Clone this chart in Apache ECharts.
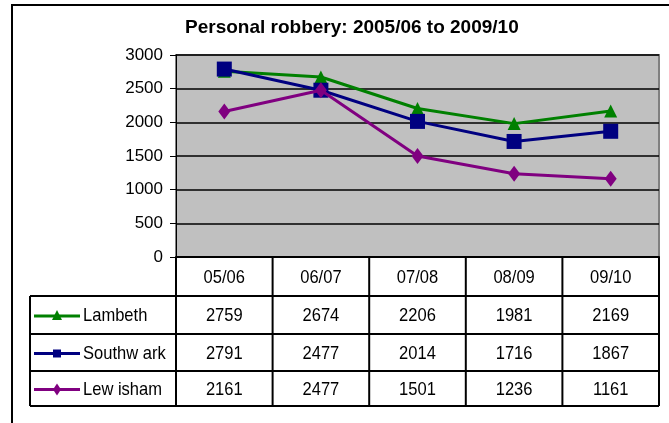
<!DOCTYPE html>
<html>
<head>
<meta charset="utf-8">
<script src="https://cdn.jsdelivr.net/npm/echarts@6/dist/echarts.min.js"></script>
<style>
html, body { margin: 0; padding: 0; background: #fff; }
#chart { width: 669px; height: 423px; }
</style>
</head>
<body>
<div id="chart"></div>
<script>
// data
const years = ['05/06', '06/07', '07/08', '08/09', '09/10']
const names = ['Lambeth', 'Southw ark', 'Lew isham']
const lambeth = [2759, 2674, 2206, 1981, 2169]
const southwark = [2791, 2477, 2014, 1716, 1867]
const lewisham = [2161, 2477, 1501, 1236, 1161]
const yMin = 0
const yMax = 3000
const yStep = 500

const colors = ['#008000', '#000080', '#800080']
const symbols = ['triangle', 'rect', 'diamond']
const symbolSizes = [[13, 13], [15, 15], [12, 16]]
const allData = [lambeth, southwark, lewisham]

const chart = echarts.init(document.getElementById('chart'))

const option = {
  animation: false,
  title: {
    text: 'Personal robbery: 2005/06 to 2009/10',
    left: 180,
    top: 13,
    textStyle: { fontFamily: 'Liberation Sans, Arial, sans-serif', fontSize: 19, fontWeight: 'bold', color: '#000' }
  },
  grid: {
    left: 176, top: 55, width: 483, height: 202,
    show: true,
    backgroundColor: '#c0c0c0',
    borderColor: '#808080',
    borderWidth: 2
  },
  xAxis: {
    type: 'category',
    data: years,
    boundaryGap: true,
    axisLine: { lineStyle: { color: '#000', width: 2 } },
    axisTick: { show: false },
    axisLabel: { show: false },
    splitLine: { show: false }
  },
  yAxis: {
    type: 'value',
    min: yMin, max: yMax, interval: yStep,
    axisLine: { show: true, lineStyle: { color: '#000', width: 1 } },
    axisTick: { show: true, length: 6, lineStyle: { color: '#000' } },
    axisLabel: { margin: 13, color: '#000', fontFamily: 'Liberation Sans, Arial, sans-serif', fontSize: 17, formatter: v => String(v) },
    splitLine: { lineStyle: { color: '#000', width: 1.5 } }
  },
  series: names.map((n, i) => ({
    name: n,
    type: 'line',
    data: allData[i],
    symbol: symbols[i],
    symbolSize: symbolSizes[i],
    showAllSymbol: true,
    lineStyle: { color: colors[i], width: 3 },
    itemStyle: { color: colors[i] },
    z: 3 + i
  }))
}
chart.setOption(option)

// data table under the plot
const tableTop = 257
const rowLines = [296, 334, 371, 406]
const legendLeft = 30
const font = '19px Liberation Sans, Arial, sans-serif'

const xs = years.map(y => chart.convertToPixel({ xAxisIndex: 0 }, y))
const band = xs[1] - xs[0]
const colEdges = [xs[0] - band / 2].concat(xs.map(x => x + band / 2))
const plotLeft = colEdges[0]
const plotRight = colEdges[colEdges.length - 1]

const g = []
// outer frame
g.push({ type: 'rect', shape: { x: 12, y: 5, width: 700, height: 460 }, style: { fill: null, stroke: '#000', lineWidth: 2 }, z: 0 })

const line = (x1, y1, x2, y2) => ({ type: 'line', shape: { x1, y1, x2, y2 }, style: { stroke: '#000', lineWidth: 2 }, z: 10 })
// horizontal lines
g.push(line(plotLeft, tableTop, plotRight, tableTop))
rowLines.forEach(y => g.push(line(legendLeft, y, plotRight, y)))
// vertical lines
colEdges.forEach(x => g.push(line(x, tableTop, x, rowLines[3])))
g.push(line(legendLeft, rowLines[0], legendLeft, rowLines[3]))

// narrow look: squeeze regular font horizontally
const text = (x, y, t, align) => ({
  type: 'text', x, y, z: 11, scaleX: 0.87,
  style: { text: String(t), fill: '#000', font: font, align: align || 'center', verticalAlign: 'middle' }
})
// header
years.forEach((y, j) => g.push(text(xs[j], (tableTop + rowLines[0]) / 2 + 1, y)))
// rows
names.forEach((n, i) => {
  const cy = (rowLines[i] + rowLines[i + 1]) / 2 + 1
  allData[i].forEach((v, j) => g.push(text(xs[j], cy, v)))
  g.push(text(83, cy, n, 'left'))
  g.push({ type: 'line', shape: { x1: 34, y1: cy, x2: 80, y2: cy }, style: { stroke: colors[i], lineWidth: 3 }, z: 11 })
  let shape
  if (i === 0) shape = { type: 'polygon', shape: { points: [[57, cy - 6], [62, cy + 4], [52, cy + 4]] } }
  else if (i === 1) shape = { type: 'rect', shape: { x: 53, y: cy - 4, width: 8, height: 8 } }
  else shape = { type: 'polygon', shape: { points: [[57, cy - 6], [61, cy], [57, cy + 6], [53, cy]] } }
  shape.style = { fill: colors[i] }
  shape.z = 12
  g.push(shape)
})

chart.setOption({ graphic: g })
</script>
</body>
</html>
